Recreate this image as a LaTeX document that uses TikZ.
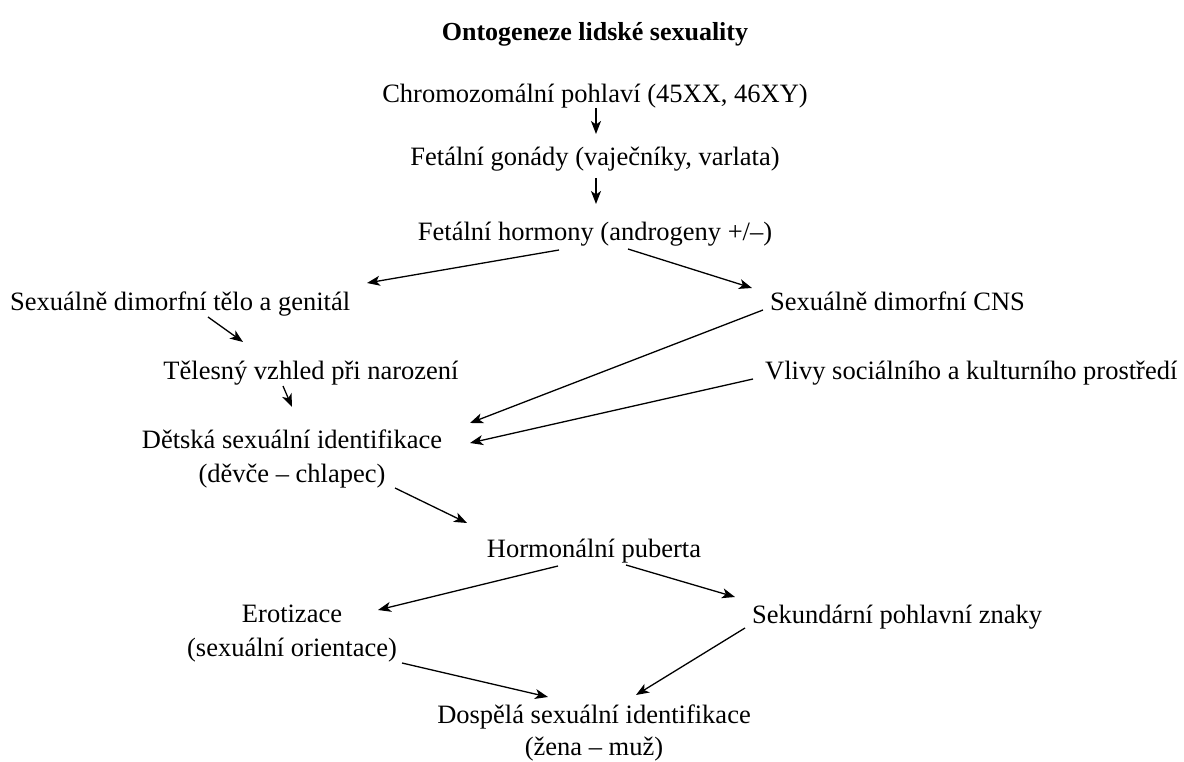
\documentclass[tikz,border=0pt]{standalone}
\usepackage{fontspec}
\setmainfont{Liberation Serif}
\usetikzlibrary{arrows.meta,calc}
\begin{document}
\begin{tikzpicture}[x=1pt,y=-1pt,
  lbl/.style={inner sep=0pt,font=\fontsize{26.5}{34}\selectfont,align=center,anchor=base},
  lblw/.style={lbl,anchor=base west},
  arr/.style={line width=1.3pt,-{Stealth[length=13pt,width=10pt,inset=3.5pt]}}]
\useasboundingbox (0,0) rectangle (1184,762);
\node[lbl,font=\fontsize{26}{34}\selectfont\bfseries] (title) at (595,41) {Ontogeneze lidské sexuality};
\node[lbl] (chrom) at (595,103) {Chromozomální pohlaví (45XX, 46XY)};
\node[lbl] (gon) at (595,166) {Fetální gonády (vaječníky, varlata)};
\node[lbl] (horm) at (595,241) {Fetální hormony (androgeny +/–)};
\node[lblw] (telo) at (10,311) {Sexuálně dimorfní tělo a genitál};
\node[lblw] (cns) at (770,311) {Sexuálně dimorfní CNS};
\node[lbl] (vzhled) at (311,379) {Tělesný vzhled při narození};
\node[lblw] (vlivy) at (765,379) {Vlivy sociálního a kulturního prostředí};
\node[lbl] (detska) at (292,482) {Dětská sexuální identifikace\\(děvče – chlapec)};
\node[lbl] (puberta) at (594,557) {Hormonální puberta};
\node[lbl] (erot) at (292,656) {Erotizace\\(sexuální orientace)};
\node[lblw] (sek) at (752,623) {Sekundární pohlavní znaky};
\node[lbl,font=\fontsize{26.5}{32}\selectfont] (dosp) at (594,755) {Dospělá sexuální identifikace\\(žena – muž)};

\draw[arr] ($(chrom.base)+(1,5)$) -- ($(gon.base)+(1,-32)$);
\draw[arr] ($(gon.base)+(1,12)$) -- ($(horm.base)+(1,-37)$);
\draw[arr] ($(horm.base)+(-36,9)$) -- ($(telo.base west)+(357,-28)$);
\draw[arr] ($(horm.base)+(33,8)$) -- ($(cns.base west)+(-18,-23)$);
\draw[arr] ($(telo.base west)+(198,6)$) -- ($(vzhled.base)+(-68,-37)$);
\draw[arr] ($(vzhled.base)+(-28,7)$) -- ($(detska.base)+(0,-75)$);
\draw[arr] ($(cns.base west)+(-7,-1)$) -- ($(detska.base)+(178,-59)$);
\draw[arr] ($(vlivy.base west)+(-12,0)$) -- ($(detska.base)+(178,-39)$);
\draw[arr] ($(detska.base)+(103,6)$) -- ($(puberta.base)+(-127,-34)$);
\draw[arr] ($(puberta.base)+(-36,9)$) -- ($(erot.base)+(86,-46)$);
\draw[arr] ($(puberta.base)+(32,8)$) -- ($(sek.base west)+(-17,-26)$);
\draw[arr] ($(erot.base)+(110,7)$) -- ($(dosp.base)+(-46,-58)$);
\draw[arr] ($(sek.base west)+(-7,5)$) -- ($(dosp.base)+(42,-60)$);
\end{tikzpicture}
\end{document}
